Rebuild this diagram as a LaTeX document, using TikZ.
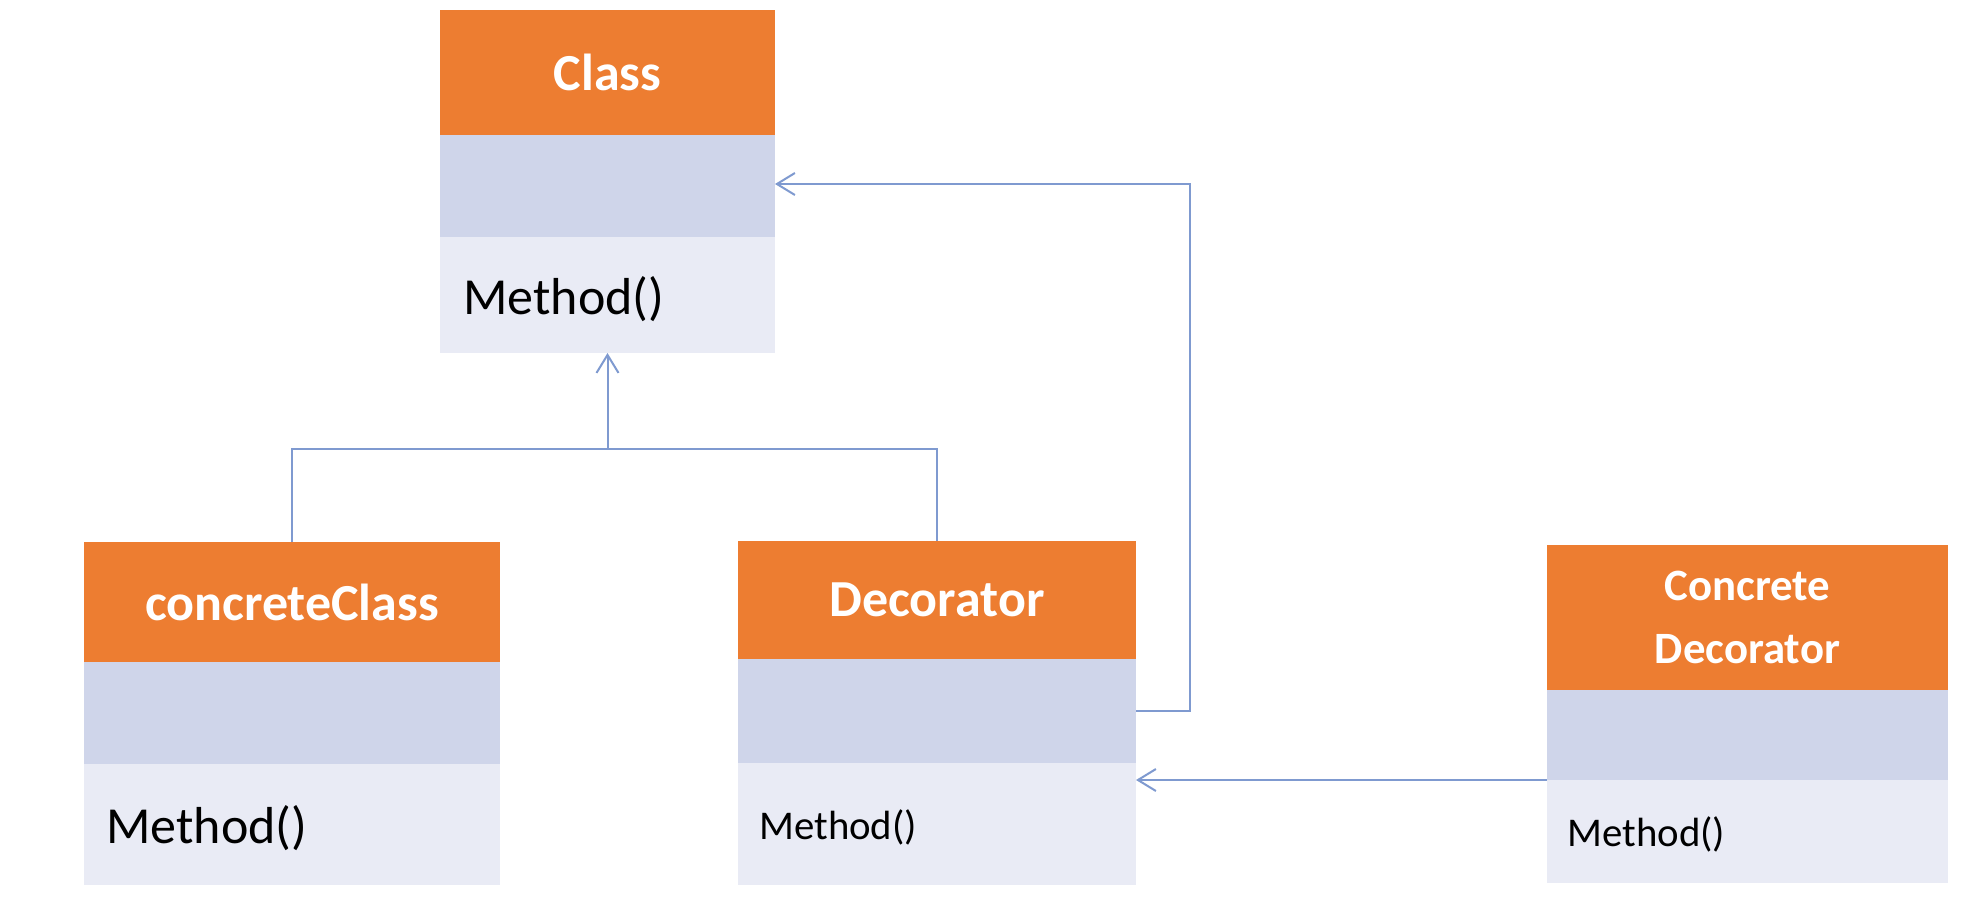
\documentclass[tikz,border=0pt]{standalone}
\usepackage{fontspec}
\setmainfont{Carlito}
\usetikzlibrary{arrows.meta}

\definecolor{hdr}{HTML}{ED7D31}
\definecolor{attr}{HTML}{CFD5EA}
\definecolor{meth}{HTML}{E9EBF5}
\definecolor{wire}{HTML}{7F9AD0}

\def\px{0.5pt}

\tikzset{
  sect/.style={rectangle, inner sep=0pt, outer sep=0pt, anchor=north west},
  hdrbox/.style={sect, fill=hdr, text=white, align=center,
                 font=\bfseries\fontsize{26}{31}\selectfont},
  attrbox/.style={sect, fill=attr},
  methbox/.style={sect, fill=meth},
  methbig/.style={anchor=west, inner sep=0pt, font=\fontsize{26}{31}\selectfont},
  methsmall/.style={anchor=west, inner sep=0pt, font=\fontsize{20.4}{25}\selectfont},
  conn/.style={draw=wire, line width=1pt},
  arrowed/.style={conn, -{Straight Barb[length=9pt,width=11pt,line width=1pt]}}
}

\begin{document}
\begin{tikzpicture}[x=0.5pt, y=-0.5pt]
  \fill[white] (0,0) rectangle (1977,917);
  \useasboundingbox (0,0) rectangle (1977,917);

  % Class
  \node[hdrbox, minimum width=335*\px, minimum height=125*\px] (cls-h) at (440,10) {Class};
  \node[attrbox, minimum width=335*\px, minimum height=102*\px] (cls-a) at (cls-h.south west) {};
  \node[methbox, minimum width=335*\px, minimum height=116*\px] (cls-m) at (cls-a.south west) {};
  \node[methbig] (cls-t) at ([xshift=23*\px, yshift=-4*\px]cls-m.west) {Method()};

  % concreteClass
  \node[hdrbox, minimum width=416*\px, minimum height=120*\px] (cc-h) at (84,542) {concreteClass};
  \node[attrbox, minimum width=416*\px, minimum height=102*\px] (cc-a) at (cc-h.south west) {};
  \node[methbox, minimum width=416*\px, minimum height=121*\px] (cc-m) at (cc-a.south west) {};
  \node[methbig] (cc-t) at ([xshift=22*\px, yshift=-4*\px]cc-m.west) {Method()};

  % Decorator
  \node[hdrbox, minimum width=398*\px, minimum height=118*\px] (dec-h) at (738,541) {Decorator};
  \node[attrbox, minimum width=398*\px, minimum height=104*\px] (dec-a) at (dec-h.south west) {};
  \node[methbox, minimum width=398*\px, minimum height=122*\px] (dec-m) at (dec-a.south west) {};
  \node[methsmall] (dec-t) at ([xshift=21*\px, yshift=-3*\px]dec-m.west) {Method()};

  % Concrete Decorator
  \node[hdrbox, minimum width=401*\px, minimum height=145*\px,
        font=\bfseries\fontsize{22.4}{31.5}\selectfont] (cd-h) at (1547,545) {Concrete\\Decorator};
  \node[attrbox, minimum width=401*\px, minimum height=90*\px] (cd-a) at (cd-h.south west) {};
  \node[methbox, minimum width=401*\px, minimum height=103*\px] (cd-m) at (cd-a.south west) {};
  \node[methsmall] (cd-t) at ([xshift=20*\px, yshift=-3*\px]cd-m.west) {Method()};

  % inheritance from Class
  \coordinate (bus) at (cls-m.south |- 0,449);
  \draw[conn] (cc-h.north) |- (bus) -| (dec-h.north);
  \draw[arrowed] (bus) -- (cls-m.south);

  % Decorator wraps a Class
  \draw[arrowed] (dec-a.east) -- ++(54,0) |- ([yshift=2*\px]cls-a.east);

  % Concrete Decorator to Decorator
  \draw[arrowed] (cd-a.south west) -- (cd-a.south west -| dec-m.east);
\end{tikzpicture}
\end{document}
